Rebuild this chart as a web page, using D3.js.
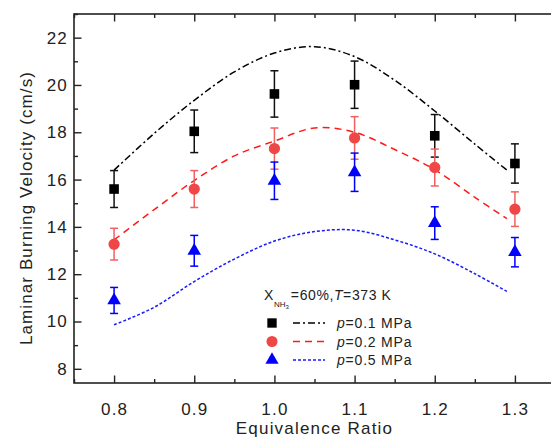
<!DOCTYPE html>
<html lang="en">
<head>
<meta charset="utf-8">
<script src="https://cdn.jsdelivr.net/npm/d3@7"></script>
<style>
  body { margin: 0; background: #fff; }
  svg text { font-family: Arial, "Liberation Sans", sans-serif; fill: #222; }
</style>
</head>
<body>
<script>
// measured points (symbols + error bars)
const phi = [0.8, 0.9, 1.0, 1.1, 1.2, 1.3];
const sl01 = [15.6, 18.04, 19.62, 20.01, 17.85, 16.68];
const err01 = [0.78, 0.9, 0.98, 1.0, 0.9, 0.83];
const sl02 = [13.27, 15.6, 17.31, 17.76, 16.51, 14.75];
const err02 = [0.67, 0.78, 0.87, 0.9, 0.78, 0.73];
const sl05 = [10.89, 12.99, 15.95, 16.31, 14.16, 12.93];
const err05 = [0.55, 0.65, 0.79, 0.81, 0.69, 0.62];

// simulated curves
const phiSim = [0.8, 0.85, 0.9, 0.95, 1.0, 1.05, 1.1, 1.15, 1.2, 1.25, 1.29];
const sim01 = [16.4, 17.95, 19.35, 20.55, 21.35, 21.62, 21.2, 20.2, 18.9, 17.5, 16.4];
const sim02 = [13.45, 14.73, 15.96, 17.0, 17.63, 18.18, 18.0, 17.27, 16.42, 15.25, 14.35];
const sim05 = [9.86, 10.6, 11.69, 12.64, 13.4, 13.8, 13.86, 13.45, 12.86, 12.02, 11.27];

const xTicks = [0.8, 0.9, 1.0, 1.1, 1.2, 1.3];
const xMinor = [0.75, 0.85, 0.95, 1.05, 1.15, 1.25, 1.35];
const yTicks = [8, 10, 12, 14, 16, 18, 20, 22];
const yMinor = [9, 11, 13, 15, 17, 19, 21, 23];

const W = 551, H = 439;
const margin = {top: 14, left: 74};
const w = 481, h = 369;

const svg = d3.select("body").append("svg")
  .attr("width", W).attr("height", H);

const g = svg.append("g")
  .attr("transform", "translate(" + margin.left + "," + margin.top + ")");

const x = d3.scaleLinear().domain([0.75, 1.35]).range([0, w]);
const y = d3.scaleLinear().domain([7.4, 23]).range([h, 0]);

// frame
g.append("rect")
  .attr("width", w).attr("height", h)
  .attr("fill", "none").attr("stroke", "#222").attr("stroke-width", 1.6);

function styleAxis(sel) {
  sel.select(".domain").remove();
  sel.selectAll(".tick line").attr("stroke", "#222").attr("stroke-width", 1.4);
}

// x axis bottom + top
g.append("g").attr("transform", "translate(0," + h + ")")
  .call(d3.axisBottom(x).tickValues(xTicks).tickSize(-7.5).tickPadding(20)
    .tickFormat(d3.format(".1f")))
  .call(styleAxis)
  .selectAll("text").style("font-size", "17px").style("letter-spacing", "1.2px");
g.append("g").attr("transform", "translate(0," + h + ")")
  .call(d3.axisBottom(x).tickValues(xMinor).tickSize(-4).tickFormat(""))
  .call(styleAxis);
g.append("g")
  .call(d3.axisTop(x).tickValues(xTicks).tickSize(-7.5).tickFormat(""))
  .call(styleAxis);
g.append("g")
  .call(d3.axisTop(x).tickValues(xMinor).tickSize(-4).tickFormat(""))
  .call(styleAxis);

// y axis
g.append("g")
  .call(d3.axisLeft(y).tickValues(yTicks).tickSize(-7.5).tickPadding(6))
  .call(styleAxis)
  .selectAll("text").style("font-size", "17px").style("letter-spacing", "1.2px");
g.append("g")
  .call(d3.axisLeft(y).tickValues(yMinor).tickSize(-4).tickFormat(""))
  .call(styleAxis);

// axis titles
svg.append("text")
  .attr("x", margin.left + x(1.05)).attr("y", 434)
  .attr("text-anchor", "middle")
  .style("font-size", "17px").style("letter-spacing", "1.2px")
  .text("Equivalence Ratio");

svg.append("text")
  .attr("transform", "translate(32,208) rotate(-90)")
  .attr("text-anchor", "middle")
  .style("font-size", "17px").style("letter-spacing", "1.1px")
  .text("Laminar Burning Velocity (cm/s)");

// curves
const series = [
  {sim: sim01, val: sl01, err: err01, line: "#000", mark: "#000", bar: "#111",
   dash: "7,3,2,3", sym: d3.symbolSquare, size: 92, label: "0.1 MPa"},
  {sim: sim02, val: sl02, err: err02, line: "#ff1a1a", mark: "#ef4646", bar: "#f06060",
   dash: "7,5", sym: d3.symbolCircle, size: 100, label: "0.2 MPa"},
  {sim: sim05, val: sl05, err: err05, line: "#1a1aff", mark: "#0000ff", bar: "#0000ff",
   dash: "3,2", sym: d3.symbolTriangle, size: 80, label: "0.5 MPa"}
];

const line = d3.line()
  .x(d => x(d[0])).y(d => y(d[1]))
  .curve(d3.curveCatmullRom.alpha(0.5));

series.forEach(s => {
  g.append("path")
    .datum(phiSim.map((p, i) => [p, s.sim[i]]))
    .attr("d", line)
    .attr("fill", "none")
    .attr("stroke", s.line)
    .attr("stroke-width", 1.5)
    .attr("stroke-dasharray", s.dash);
});

// error bars and symbols
series.forEach(s => {
  const pts = phi.map((p, i) => ({p: p, v: s.val[i], e: s.err[i]}));
  const eb = g.append("g").attr("stroke", s.bar).attr("stroke-width", 1.5);
  pts.forEach(d => {
    eb.append("line")
      .attr("x1", x(d.p)).attr("x2", x(d.p))
      .attr("y1", y(d.v + d.e)).attr("y2", y(d.v - d.e));
    [d.v + d.e, d.v - d.e].forEach(c => {
      eb.append("line")
        .attr("x1", x(d.p) - 4).attr("x2", x(d.p) + 4)
        .attr("y1", y(c)).attr("y2", y(c));
    });
  });
  g.append("g").selectAll("path")
    .data(pts)
    .enter()
    .append("path")
    .attr("d", d3.symbol().type(s.sym).size(s.size))
    .attr("transform", d => "translate(" + x(d.p) + "," + y(d.v) + ")")
    .attr("fill", s.mark);
});

// legend
const lg = svg.append("g");
const head = lg.append("text")
  .attr("x", 264).attr("y", 300)
  .style("font-size", "14px").style("letter-spacing", "0.6px");
head.append("tspan").text("X");
head.append("tspan").attr("dy", 7).style("font-size", "8px").style("letter-spacing", "0px").text("NH");
head.append("tspan").attr("dy", 2).style("font-size", "6px").style("letter-spacing", "0px").text("3");
head.append("tspan").attr("dy", -9).attr("dx", 2).text("=60%,");
head.append("tspan").style("font-style", "italic").text("T");
head.append("tspan").text("=373 K");

series.forEach((s, i) => {
  const cy = 323 + i * 18.5;
  lg.append("path")
    .attr("d", d3.symbol().type(s.sym).size(s.size * 0.95))
    .attr("transform", "translate(272," + cy + ")")
    .attr("fill", s.mark);
  lg.append("line")
    .attr("x1", 293).attr("x2", 325)
    .attr("y1", cy).attr("y2", cy)
    .attr("stroke", s.line).attr("stroke-width", 1.5)
    .attr("stroke-dasharray", s.dash);
  const t = lg.append("text")
    .attr("x", 337).attr("y", cy + 5)
    .style("font-size", "14px").style("letter-spacing", "0.8px");
  t.append("tspan").style("font-style", "italic").text("p");
  t.append("tspan").text("=" + s.label);
});
</script>
</body>
</html>
